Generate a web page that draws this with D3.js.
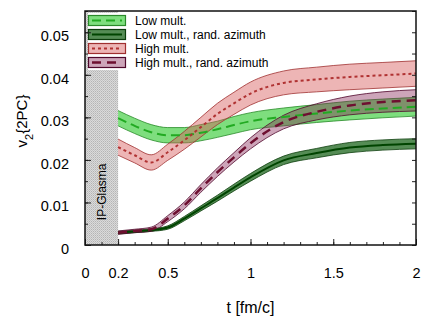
<!DOCTYPE html>
<html>
<head>
<meta charset="utf-8">
<script src="https://d3js.org/d3.v7.min.js"></script>
<style>
 body { margin: 0; background: #fff; }
 text { font-family: "Liberation Sans", Arial, sans-serif; fill: #000; }
 .tick text { font-size: 14.5px; }
 .legend text { font-size: 12px; }
</style>
</head>
<body>
<div id="chart"></div>
<script>
// time points [fm/c]
var tVals = [0.2, 0.3, 0.4, 0.5, 0.6, 0.7, 0.8, 0.9, 1.0, 1.2, 1.4, 1.6, 1.8, 2.0];

var lowMult     = [0.0298, 0.0280, 0.0265, 0.0258, 0.0258, 0.0264, 0.0272, 0.0282, 0.0291, 0.0301, 0.0309, 0.0316, 0.0321, 0.0325];
var lowMultErr  = [0.0018, 0.0018, 0.0018, 0.0018, 0.0018, 0.0019, 0.0019, 0.0020, 0.0020, 0.0021, 0.0021, 0.0022, 0.0022, 0.0022];
var lowRand     = [0.0029, 0.0032, 0.0035, 0.0041, 0.0062, 0.0086, 0.0110, 0.0135, 0.0159, 0.0199, 0.0216, 0.0229, 0.0235, 0.0238];
var lowRandErr  = [0.0003, 0.0003, 0.0003, 0.0004, 0.0005, 0.0006, 0.0007, 0.0008, 0.0009, 0.0010, 0.0011, 0.0012, 0.0012, 0.0012];
var highMult    = [0.0230, 0.0211, 0.0194, 0.0218, 0.0246, 0.0277, 0.0308, 0.0333, 0.0356, 0.0381, 0.0389, 0.0395, 0.0399, 0.0403];
var highMultErr = [0.0019, 0.0018, 0.0018, 0.0019, 0.0021, 0.0023, 0.0025, 0.0026, 0.0027, 0.0028, 0.0029, 0.0030, 0.0030, 0.0030];
var highRand    = [0.0029, 0.0033, 0.0037, 0.0062, 0.0093, 0.0133, 0.0171, 0.0206, 0.0239, 0.0289, 0.0313, 0.0328, 0.0336, 0.0340];
var highRandErr = [0.0004, 0.0004, 0.0005, 0.0007, 0.0008, 0.0009, 0.0010, 0.0011, 0.0013, 0.0016, 0.0019, 0.0022, 0.0024, 0.0025];

var xTickVals = [0, 0.2, 0.5, 1, 1.5, 2];
var xTickLabels = ["0", "0.2", "0.5", "1", "1.5", "2"];
var yTickVals = [0, 0.01, 0.02, 0.03, 0.04, 0.05];
var yTickLabels = ["0", "0.01", "0.02", "0.03", "0.04", "0.05"];
var legendLabels = ["Low mult.", "Low mult., rand. azimuth", "High mult.", "High mult., rand. azimuth"];

var W = 428, H = 318;
var margin = {top: 11, right: 12, bottom: 73, left: 85};
var width = W - margin.left - margin.right;
var height = H - margin.top - margin.bottom;

var x = d3.scaleLinear().domain([0, 2]).range([0, width]);
var y = d3.scaleLinear().domain([0, 0.055]).range([height, 0]);

var svg = d3.select("#chart").append("svg")
  .attr("width", W).attr("height", H);

var defs = svg.append("defs");
var pat = defs.append("pattern").attr("id", "stip")
  .attr("width", 2).attr("height", 2).attr("patternUnits", "userSpaceOnUse");
pat.append("rect").attr("width", 2).attr("height", 2).attr("fill", "#dadada");
pat.append("rect").attr("width", 1).attr("height", 1).attr("fill", "#b4b4b4");
pat.append("rect").attr("x", 1).attr("y", 1).attr("width", 1).attr("height", 1).attr("fill", "#c4c4c4");
defs.append("clipPath").attr("id", "clip").append("rect")
  .attr("width", width).attr("height", height);

var g = svg.append("g").attr("transform", "translate(" + margin.left + "," + margin.top + ")");

// IP-Glasma region
g.append("rect")
  .attr("x", x(0)).attr("y", 0)
  .attr("width", x(0.2) - x(0)).attr("height", height)
  .attr("fill", "url(#stip)");

g.append("text")
  .attr("transform", "translate(" + (x(0.1) + 4.5) + "," + y(0.0125) + ") rotate(-90)")
  .attr("text-anchor", "middle")
  .style("font-size", "12px")
  .text("IP-Glasma");

var series = [
  {name: legendLabels[0], v: lowMult, e: lowMultErr, fill: "rgba(40,200,40,0.6)", edge: "#2a8a2a", line: "#22aa22", dash: "9,5", lw: 2},
  {name: legendLabels[1], v: lowRand, e: lowRandErr, fill: "rgba(20,95,20,0.72)", edge: "#0b3d0b", line: "#004400", dash: null, lw: 2},
  {name: legendLabels[2], v: highMult, e: highMultErr, fill: "rgba(215,90,90,0.45)", edge: "#a03030", line: "#b03232", dash: "3,3", lw: 2},
  {name: legendLabels[3], v: highRand, e: highRandErr, fill: "rgba(130,30,80,0.4)", edge: "#50082c", line: "#6e0f30", dash: "9,6", lw: 2.5}
];

var plot = g.append("g").attr("clip-path", "url(#clip)");

var area = function(s) {
  return d3.area().curve(d3.curveMonotoneX)
    .x(function(d, i) { return x(tVals[i]); })
    .y0(function(d, i) { return y(s.v[i] - s.e[i]); })
    .y1(function(d, i) { return y(s.v[i] + s.e[i]); });
};
var line = d3.line().curve(d3.curveMonotoneX)
  .x(function(d, i) { return x(tVals[i]); })
  .y(function(d) { return y(d); });
var edgeLo = function(s) {
  return d3.line().curve(d3.curveMonotoneX)
    .x(function(d, i) { return x(tVals[i]); })
    .y(function(d, i) { return y(s.v[i] - s.e[i]); });
};
var edgeHi = function(s) {
  return d3.line().curve(d3.curveMonotoneX)
    .x(function(d, i) { return x(tVals[i]); })
    .y(function(d, i) { return y(s.v[i] + s.e[i]); });
};

series.forEach(function(s) {
  plot.append("path").datum(s.v).attr("d", area(s)).attr("fill", s.fill);
  plot.append("path").datum(s.v).attr("d", edgeLo(s)).attr("fill", "none").attr("stroke", s.edge).attr("stroke-width", 0.8);
  plot.append("path").datum(s.v).attr("d", edgeHi(s)).attr("fill", "none").attr("stroke", s.edge).attr("stroke-width", 0.8);
});
series.forEach(function(s) {
  plot.append("path").datum(s.v).attr("d", line)
    .attr("fill", "none").attr("stroke", s.line)
    .attr("stroke-width", s.lw)
    .attr("stroke-dasharray", s.dash);
});

// legend
var leg = g.append("g").attr("class", "legend").attr("transform", "translate(3,2)");
leg.append("rect").attr("x", 0).attr("y", 0).attr("width", 192).attr("height", 57).attr("fill", "#fff");
series.forEach(function(s, i) {
  var row = leg.append("g").attr("transform", "translate(0," + (i * 14 + 2) + ")");
  row.append("rect").attr("x", 0.5).attr("y", 0.5).attr("width", 37).attr("height", 10)
    .attr("fill", "#fff");
  row.append("rect").attr("x", 0.5).attr("y", 0.5).attr("width", 37).attr("height", 10)
    .attr("fill", s.fill).attr("stroke", s.edge).attr("stroke-width", 1.2);
  row.append("line").attr("x1", 4).attr("x2", 34).attr("y1", 5.5).attr("y2", 5.5)
    .attr("stroke", s.line).attr("stroke-width", s.lw).attr("stroke-dasharray", s.dash);
  row.append("text").attr("x", 47).attr("y", 10).text(s.name);
});

// axes
var xMinor = d3.range(0, 2.01, 0.1);
var yMinor = d3.range(0, 0.0551, 0.005);

g.append("g").attr("transform", "translate(0," + height + ")")
  .call(d3.axisBottom(x).tickValues(xMinor).tickSize(-3).tickFormat(""))
  .call(function(a) { a.select(".domain").remove(); a.selectAll("line").attr("stroke", "#222"); });
g.append("g").attr("transform", "translate(0," + height + ")")
  .call(d3.axisBottom(x).tickValues(xTickVals).tickSize(-6).tickPadding(23)
    .tickFormat(function(d, i) { return xTickLabels[i]; }))
  .call(function(a) { a.select(".domain").remove(); a.selectAll("line").attr("stroke", "#222"); });

g.append("g")
  .call(d3.axisLeft(y).tickValues(yMinor).tickSize(-3).tickFormat(""))
  .call(function(a) { a.select(".domain").remove(); a.selectAll("line").attr("stroke", "#222"); });
g.append("g")
  .call(d3.axisLeft(y).tickValues(yTickVals).tickSize(-6).tickPadding(16)
    .tickFormat(function(d, i) { return yTickLabels[i]; }))
  .call(function(a) { a.select(".domain").remove(); a.selectAll("line").attr("stroke", "#222"); a.selectAll("text").attr("dy", "0.58em"); });
g.append("g").attr("transform", "translate(" + width + ",0)")
  .call(d3.axisRight(y).tickValues(yMinor).tickSize(-4).tickFormat(""))
  .call(function(a) { a.select(".domain").remove(); a.selectAll("line").attr("stroke", "#222"); });

g.append("rect").attr("width", width).attr("height", height)
  .attr("fill", "none").attr("stroke", "#111").attr("stroke-width", 1.5);

svg.append("text")
  .attr("x", margin.left + x(1)).attr("y", 313)
  .attr("text-anchor", "middle").style("font-size", "16px")
  .text("t [fm/c]");

var yl = svg.append("text")
  .attr("transform", "translate(27," + 121 + ") rotate(-90)")
  .attr("text-anchor", "middle").style("font-size", "15px");
yl.append("tspan").text("v");
yl.append("tspan").attr("baseline-shift", "sub").style("font-size", "11px").text("2");
yl.append("tspan").text("{2PC}");
</script>
</body>
</html>
